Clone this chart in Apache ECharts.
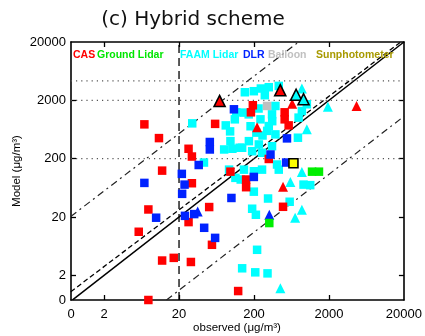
<!DOCTYPE html>
<html><head><meta charset="utf-8">
<script src="https://cdn.jsdelivr.net/npm/echarts@6/dist/echarts.min.js"></script>
<style>html,body{margin:0;padding:0;background:#fff}#c{width:425px;height:336px}</style>
</head><body><div id="c"></div>
<script>
// ---- data (observed, model) in µg/m³; 0 means plotted on the "0" edge ----
const tickValues = [2, 20, 200, 2000, 20000];
const casSquares = [[6.9,776],[10.8,451],[26.8,296],[29.7,218],[60.6,791],[193,1648],[182,1248],[513,1248],[513,946],[580,745],[315,198],[11.9,125],[29.7,76],[97,120],[7.8,27],[5.8,11.2],[50.5,29.7],[26.8,16.4],[55,6.7],[11.9,3.6],[17,4.0],[28.8,3.4],[7.8,0],[123,1.08],[157,88],[157,65],[488,30]];
const casTriangles = [[646,1746],[4667,1603],[220,689],[488,66]];
const casTrianglesOutlined = [[69.5,1954],[448,2985]];
const dlrSquares = [[108,1406],[51.5,387],[51.5,288],[36.6,156],[551,446],[332,236],[537,172],[6.9,77],[21.8,110],[23.7,72],[22,50],[100,42.5],[199,97.5],[9.9,19.5],[24,21],[31.9,22.5],[43.3,13.1],[60.6,8.8]];
const dlrTriangles = [[35.5,24.9],[320,21.9]];
const balloonSquares = [[299,1603]];
const sunSquares = [[672,167]];
const groundSquares = [[1189,120],[1472,120],[320,15.8]];
const faamSquares = [[30,807],[84,745],[111,946],[116,1248],[96,588],[97,400],[80,288],[103,296],[129,308],[43,172],[93,130],[151,2755],[199,2870],[247,3190],[315,3360],[279,2450],[428,3540],[386,1603],[871,1315],[147,1233],[244,946],[348,1153],[315,725],[386,522],[771,458],[171,400],[232,351],[348,328],[139,308],[189,269],[256,253],[406,159],[787,1012],[1014,1714],[113,94],[133,88],[147,130],[199,122],[256,130],[428,130],[199,54.5],[308,41.6],[598,36.6],[916,72],[1125,70.5],[189,27.8],[212,21.9],[220,5.5],[139,2.65],[208,2.26],[303,2.17],[230,1450],[170,1150],[215,560],[300,600],[350,880],[180,720],[260,500]];
const faamTriangles = [[871,118],[611,80],[871,26.7],[708,19.5],[450,1.21],[871,3190],[1936,1552],[1014,637]];
const faamTrianglesOutlined = [[729,2495],[916,2090]];
// reference lines
const lineOneToOne = [[0.76,0.76],[20000,20000]];
const lineFit = [[0.72,1.05],[20000,22000]];
const lineUpper = [[0.72,20.5],[787,20000]];
const lineLower = [[13.6,0.76],[20000,1064]];
const lineVertical = [[20,0.76],[20,20000]];
const dottedLevels = [200, 2000, 4300];
const legendItems = [
  {name:'CAS', color:'#ff0000', x:73},
  {name:'Ground Lidar', color:'#00e600', x:97},
  {name:'FAAM Lidar', color:'#00ffff', x:180},
  {name:'DLR', color:'#0022ff', x:243},
  {name:'Balloon', color:'#c0c0c0', x:268},
  {name:'Sunphotometer', color:'#a89a00', x:316}
];

// ---- scale helpers (log axis with a "0" edge) ----
const XMIN = -0.14, YMIN = -0.12, LMAX = Math.log10(20000);
const lx = v => v <= 0 ? XMIN : Math.log10(v);
const ly = v => v <= 0 ? YMIN : Math.log10(v);
const pts = arr => arr.map(p => [lx(p[0]), ly(p[1])]);

const chart = echarts.init(document.getElementById('c'), null, {renderer:'canvas'});
const FONT = 'Liberation Sans';
const tickPos = tickValues.slice(0, 4).map(v => Math.log10(v));
const labelFmt = min => v => (Math.abs(v - min) < 1e-6 ? '0' : String(Math.round(Math.pow(10, v))));
const axisCommon = {
  type: 'value', scale: false, splitLine: {show:false},
  axisLine: {show:true, onZero:false, lineStyle:{color:'#000', width:1.6}},
};
function xAx(pos, show) {
  return Object.assign({}, axisCommon, {
    position: pos, min: XMIN, max: LMAX,
    axisTick: {show:true, inside:true, length:5, lineStyle:{color:'#000', width:1.3}, customValues: tickPos},
    axisLabel: {show: show, customValues: [XMIN].concat(tickValues.map(v => Math.log10(v))), formatter: labelFmt(XMIN), color:'#000', fontSize:13, fontFamily:FONT, margin:8}
  });
}
function yAx(pos, show) {
  return Object.assign({}, axisCommon, {
    position: pos, min: YMIN, max: LMAX,
    axisTick: {show:true, inside:true, length:5, lineStyle:{color:'#000', width:1.3}, customValues: tickPos},
    axisLabel: {show: show, customValues: [YMIN].concat(tickValues.map(v => Math.log10(v))), formatter: labelFmt(YMIN), color:'#000', fontSize:13, fontFamily:FONT, margin:5}
  });
}
function refLine(data, type, width, color) {
  return {type:'line', data: pts(data), symbol:'none', silent:true, clip:true, z:1,
    lineStyle:{color: color || '#000', width: width, type: type}, animation:false};
}
function scat(data, symbol, size, color, border, z) {
  return {type:'scatter', data: pts(data), symbol: symbol, symbolSize: size, z: z || 3,
    itemStyle: {color: color, opacity:1, borderColor: border ? '#000' : color, borderWidth: border ? 1.6 : 0}, animation:false};
}

const series = [
  refLine(lineOneToOne, 'solid', 1.5),
  refLine(lineFit, [5,3], 1.3),
  refLine(lineUpper, [7,4,2,4], 1.2, '#222'),
  refLine(lineLower, [7,4,2,4], 1.2, '#222'),
  refLine(lineVertical, [8,5], 1.3),
];
dottedLevels.forEach(v => series.push(refLine([[0.72, v],[20000, v]], [1.2,4], 1.3, '#555')));
series.push(
  scat(faamSquares, 'rect', 8.5, '#00ffff'),
  scat(faamTriangles, 'triangle', 10, '#00ffff'),
  scat(casSquares, 'rect', 8.5, '#ff0000', false, 4),
  scat(casTriangles, 'triangle', 10, '#ff0000', false, 4),
  scat(dlrSquares, 'rect', 8.5, '#0022ff', false, 4),
  scat(dlrTriangles, 'triangle', 10, '#0022ff', false, 4),
  scat(groundSquares, 'rect', 8.5, '#00ee00', false, 4),
  scat(balloonSquares, 'rect', 8.5, '#c0c0c0', false, 5),
  scat(sunSquares, 'rect', 9, '#ffff00', true, 5),
  scat(casTrianglesOutlined, 'triangle', 11, '#ff0000', true, 5),
  scat(faamTrianglesOutlined, 'triangle', 11, '#00ffff', true, 5)
);

const graphics = [
  {type:'text', style:{text:'(c) Hybrid scheme', x:193, y:20, align:'center', verticalAlign:'middle', font:'20px "DejaVu Sans"', fill:'#111'}},
  {type:'text', style:{text:'observed (μg/m³)', x:237, y:328, align:'center', verticalAlign:'middle', font:'11.5px "Liberation Sans"', fill:'#000'}},
  {type:'text', x:17, y:171, rotation:Math.PI/2, style:{text:'Model (μg/m³)', x:0, y:0, align:'center', verticalAlign:'middle', font:'11.5px "Liberation Sans"', fill:'#000'}}
];
legendItems.forEach(it => graphics.push({type:'text', z:10, style:{text:it.name, x:it.x, y:55, align:'left', verticalAlign:'middle', font:'bold 10.5px "Liberation Sans"', fill:it.color}}));

chart.setOption({
  animation:false,
  backgroundColor:'#fff',
  grid:{left:71, right:19, top:42, bottom:36, containLabel:false},
  xAxis:[xAx('bottom', true), xAx('top', false)],
  yAxis:[yAx('left', true), yAx('right', false)],
  graphic: graphics,
  series: series
});
</script>
</body></html>
